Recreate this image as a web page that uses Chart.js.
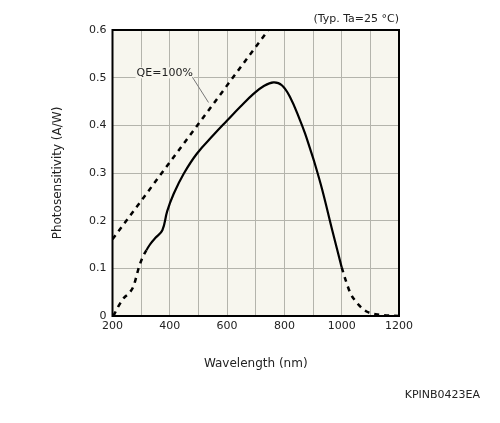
<!DOCTYPE html>
<html>
<head>
<meta charset="utf-8">
<script src="https://cdn.jsdelivr.net/npm/chart.js@4"></script>
<style>
html,body{margin:0;padding:0;background:#fff;}
#wrap{width:500px;height:423px;position:relative;}
</style>
</head>
<body>
<div id="wrap"><canvas id="c" width="500" height="423"></canvas></div>
<script>
// ---- data ----
const qeWavelength = [200, 744];
const qeValue = [0.161, 0.6];

const lowTailWavelength = [203, 222, 240, 258, 273, 283, 291, 303, 318];
const lowTailValue = [0.0, 0.022, 0.038, 0.048, 0.062, 0.082, 0.100, 0.120, 0.138];

const mainWavelength = [318, 333, 350, 374, 391, 414, 449, 495, 553, 600, 646, 692, 727, 762, 791, 820, 855, 872, 889, 905, 932, 967, 1000];
const mainValue = [0.138, 0.152, 0.164, 0.180, 0.220, 0.257, 0.299, 0.341, 0.380, 0.410, 0.439, 0.466, 0.482, 0.490, 0.484, 0.459, 0.410, 0.383, 0.352, 0.322, 0.265, 0.180, 0.102];

const highTailWavelength = [1000, 1015, 1031, 1050, 1066, 1085, 1101, 1125, 1148, 1200];
const highTailValue = [0.102, 0.073, 0.047, 0.030, 0.019, 0.010, 0.006, 0.003, 0.0015, 0.0];

const xTickLabels = ['200', '400', '600', '800', '1000', '1200'];
const yTickLabels = ['0', '0.1', '0.2', '0.3', '0.4', '0.5', '0.6'];

const headerText = '(Typ. Ta=25 °C)';
const captionText = 'KPINB0423EA';
const qeLabel = 'QE=100%';
// label anchor / leader in data space
const qeLabelAt = {x: 284, y: 0.509};
const qeLeader = [{x: 479, y: 0.501}, {x: 535, y: 0.448}];

function pts(xs, ys) { return xs.map((x, i) => ({x: x, y: ys[i]})); }

const FONT = "'DejaVu Sans', Verdana, sans-serif";

const deco = {
  id: 'deco',
  beforeDraw(chart) {
    const {ctx, chartArea: a} = chart;
    ctx.save();
    ctx.fillStyle = '#f7f6ee';
    ctx.fillRect(a.left, a.top, a.right - a.left, a.bottom - a.top);
    ctx.restore();
  },
  afterDraw(chart) {
    const {ctx, chartArea: a, scales} = chart;
    const xs = scales.x, ys = scales.y;
    ctx.save();
    ctx.strokeStyle = '#000';
    ctx.lineWidth = 2;
    ctx.strokeRect(a.left, a.top, a.right - a.left, a.bottom - a.top);
    // label
    ctx.font = '11px ' + FONT;
    ctx.textBaseline = 'middle';
    ctx.textAlign = 'left';
    const lx = xs.getPixelForValue(qeLabelAt.x), ly = ys.getPixelForValue(qeLabelAt.y);
    const w = ctx.measureText(qeLabel).width;
    ctx.fillStyle = '#f7f6ee';
    ctx.fillRect(lx - 1, ly - 6, w + 2, 11);
    ctx.fillStyle = '#222';
    ctx.fillText(qeLabel, lx, ly);
    // leader line
    ctx.strokeStyle = '#777';
    ctx.lineWidth = 1;
    ctx.beginPath();
    qeLeader.forEach((p, i) => {
      const px = xs.getPixelForValue(p.x), py = ys.getPixelForValue(p.y);
      if (i === 0) ctx.moveTo(px, py); else ctx.lineTo(px, py);
    });
    ctx.stroke();
    // header
    ctx.fillStyle = '#222';
    ctx.textAlign = 'right';
    ctx.fillText(headerText, a.right, 19);
    // caption
    ctx.fillText(captionText, 480, 395);
    ctx.restore();
  }
};

new Chart(document.getElementById('c'), {
  type: 'line',
  data: {
    datasets: [
      {data: pts(qeWavelength, qeValue), borderColor: '#000', borderWidth: 2.5, borderDash: [5, 5], pointRadius: 0, tension: 0, fill: false},
      {data: pts(lowTailWavelength, lowTailValue), borderColor: '#000', borderWidth: 2.5, borderDash: [5, 5], pointRadius: 0, cubicInterpolationMode: 'monotone', fill: false},
      {data: pts(mainWavelength, mainValue), borderColor: '#000', borderWidth: 2.2, pointRadius: 0, tension: 0.4, fill: false},
      {data: pts(highTailWavelength, highTailValue), borderColor: '#000', borderWidth: 2.5, borderDash: [5, 5], pointRadius: 0, cubicInterpolationMode: 'monotone', fill: false}
    ]
  },
  options: {
    responsive: false,
    animation: false,
    devicePixelRatio: 1,
    layout: {padding: {left: 47, right: 101, top: 30, bottom: 48}},
    plugins: {legend: {display: false}, tooltip: {enabled: false}},
    scales: {
      x: {
        type: 'linear', min: 200, max: 1200,
        afterFit(s) { s.height = 59; },
        ticks: {
          stepSize: 100, autoSkip: false, maxRotation: 0, padding: 4, color: '#222',
          font: {family: FONT, size: 11},
          callback(v) { const i = xTickLabels.indexOf(String(v)); return i >= 0 ? xTickLabels[i] : ''; }
        },
        grid: {color: '#b4b4ac', lineWidth: 1, drawTicks: false},
        border: {display: false},
        title: {display: true, text: 'Wavelength (nm)', color: '#222', font: {family: FONT, size: 12}}
      },
      y: {
        type: 'linear', min: 0, max: 0.6,
        afterFit(s) { s.width = 65.5; },
        ticks: {
          stepSize: 0.1, autoSkip: false, padding: 6, color: '#222',
          font: {family: FONT, size: 11},
          callback(v) { const i = Math.round(v * 10); return yTickLabels[i] !== undefined ? yTickLabels[i] : ''; }
        },
        grid: {color: '#b4b4ac', lineWidth: 1, drawTicks: false},
        border: {display: false},
        title: {display: true, text: 'Photosensitivity (A/W)', color: '#222', font: {family: FONT, size: 12}}
      }
    }
  },
  plugins: [deco]
});
</script>
</body>
</html>
